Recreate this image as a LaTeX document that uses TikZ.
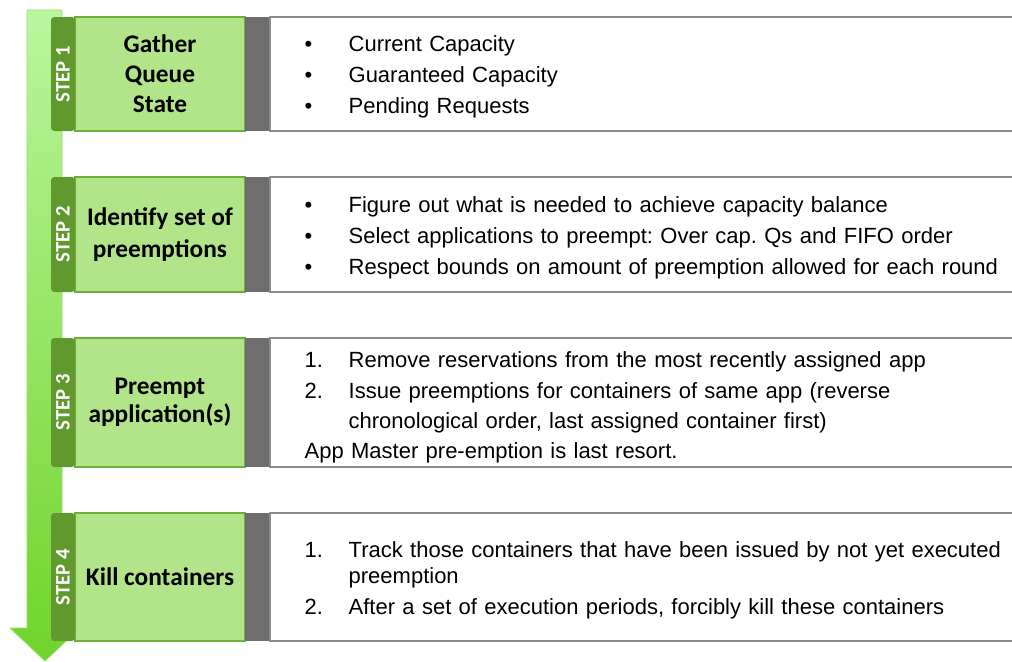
\documentclass[tikz,border=0pt]{standalone}
\usepackage{fontspec}
\setmainfont{Liberation Sans}
\newfontfamily\calib{Carlito}
\usetikzlibrary{positioning}

\definecolor{tagdark}{RGB}{98,153,46}
\definecolor{steplight}{RGB}{178,228,138}
\definecolor{stepedge}{RGB}{108,176,58}
\definecolor{bargray}{RGB}{110,110,110}
\definecolor{infoedge}{RGB}{140,140,140}
\definecolor{arrowtop}{RGB}{186,246,158}
\definecolor{arrowbot}{RGB}{112,212,42}
\definecolor{arrowedge}{RGB}{150,222,110}

\newcommand{\infofont}{\fontsize{16.5}{23.25}\selectfont\frenchspacing\hyphenpenalty=10000\relax}
\newcommand{\bul}{\rule{0pt}{16.5pt}\makebox[33pt][l]{\textbullet}}
\newcommand{\num}[1]{\rule{0pt}{16.5pt}\makebox[33pt][l]{#1}}
\newcommand{\cont}{\hspace*{33pt}}

\begin{document}
\begin{tikzpicture}[x=0.75pt,y=-0.75pt,
        stepnode/.style={rectangle, fill=steplight, draw=stepedge, line width=1.1pt, minimum width=127.5pt, inner sep=0pt, outer sep=0pt, align=center, font=\calib\bfseries\fontsize{19}{22.5}\selectfont},
        tagnode/.style={rectangle, rounded corners=2.5pt, fill=tagdark, minimum width=18pt, inner sep=0pt, outer sep=0pt, text=white, font=\calib\bfseries\fontsize{15.5}{18}\selectfont},
        barnode/.style={rectangle, fill=bargray, minimum width=18.75pt, inner sep=0pt, outer sep=0pt},
        infonode/.style={rectangle, fill=white, draw=infoedge, line width=1.2pt, minimum width=560pt, text width=540pt, inner xsep=26pt, inner ysep=0pt, outer sep=0pt, align=left, font=\infofont},
    ]
    \useasboundingbox (0,0) rectangle (1012,661);

    % big arrow behind the steps
    \shade[top color=arrowtop, bottom color=arrowbot, draw=arrowedge, line width=0.6pt]
        (27,10) -- (62,10) -- (62,628) -- (80,628) -- (45,661) -- (10,628) -- (27,628) -- cycle;

    % step 1
    \node[stepnode, minimum height=85.5pt] (step1) at (160,74) {Gather\\Queue\\State};
    \node[tagnode, minimum height=85.5pt] (tag1) [left=0pt of step1] {\rotatebox{90}{STEP 1}};
    \node[barnode, minimum height=85.5pt] (bar1) [right=0pt of step1] {};
    \node[infonode, minimum height=85.5pt] (info1) [right=0pt of bar1]
        {\bul Current Capacity\\ \bul Guaranteed Capacity\\ \bul Pending Requests};

    % step 2
    \node[stepnode, minimum height=86.25pt] (step2) at (160,234.5) {Identify set of\\[1.5pt]preemptions};
    \node[tagnode, minimum height=86.25pt] (tag2) [left=0pt of step2] {\rotatebox{90}{STEP 2}};
    \node[barnode, minimum height=86.25pt] (bar2) [right=0pt of step2] {};
    \node[infonode, minimum height=86.25pt] (info2) [right=0pt of bar2]
        {\bul Figure out what is needed to achieve capacity balance\\
         \bul Select applications to preempt: Over cap.\ Qs and FIFO order\\
         \bul Respect bounds on amount of preemption allowed for each round};

    % step 3
    \node[stepnode, minimum height=96.75pt] (step3) at (160,402.5) {Preempt\\[-1.5pt]application(s)};
    \node[tagnode, minimum height=96.75pt] (tag3) [left=0pt of step3] {\rotatebox{90}{STEP 3}};
    \node[barnode, minimum height=96.75pt] (bar3) [right=0pt of step3] {};
    \node[infonode, minimum height=96.75pt] (info3) [right=0pt of bar3]
        {\rule{0pt}{19.5pt}\makebox[33pt][l]{1.}Remove reservations from the most recently assigned app\\
         \num{2.}Issue preemptions for containers of same app (reverse\\[-0.75pt]
         \cont chronological order, last assigned container first)\\[-0.75pt]
         App Master pre-emption is last resort.};

    % step 4
    \node[stepnode, minimum height=96pt] (step4) at (160,577) {Kill containers};
    \node[tagnode, minimum height=96pt] (tag4) [left=0pt of step4] {\rotatebox{90}{STEP 4}};
    \node[barnode, minimum height=96pt] (bar4) [right=0pt of step4] {};
    \node[infonode, minimum height=96pt] (info4) [right=0pt of bar4]
        {\num{1.}Track those containers that have been issued by not yet executed\\[-3.75pt]
         \cont preemption\\
         \num{2.}After a set of execution periods, forcibly kill these containers};
\end{tikzpicture}
\end{document}
